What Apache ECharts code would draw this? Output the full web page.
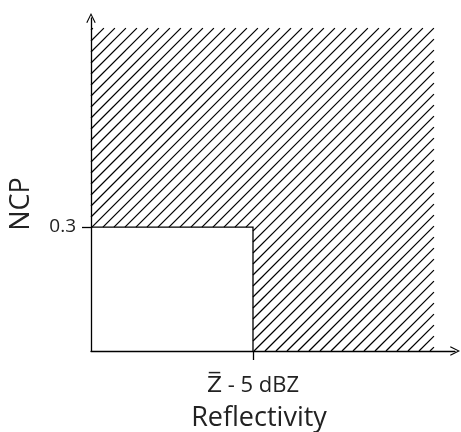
<!DOCTYPE html>
<html><head><meta charset="utf-8">
<script src="https://cdn.jsdelivr.net/npm/echarts@6/dist/echarts.min.js"></script>
<style>html,body{margin:0;padding:0;background:#fff}#c{width:461px;height:432px}</style>
</head><body><div id="c"></div>
<script>
// ---- data ----
const xAxisRange = [0, 2.247];          // reflectivity axis (schematic units)
const yAxisRange = [0, 0.806];          // NCP axis
const xTickValues = [1];
const xTickLabels = ['Z\u0305 - 5 dBZ'];
const yTickValues = [0.3];
const yTickLabels = ['0.3'];
const rejectExtent = [2.117, 0.7815];   // outer limit of hatched (rejected) region [x, y]
const acceptBox = [1, 0.3];             // clear region upper limits [x threshold, NCP threshold]
const axisNames = ['Reflectivity', 'NCP'];

const FONT = '"Open Sans", "DejaVu Sans", sans-serif';
const chart = echarts.init(document.getElementById('c'), null, {renderer: 'canvas'});

function renderItem(params, api) {
  const p0 = api.coord([0, 0]);
  const pT = api.coord([api.value(0), api.value(1)]);
  const pA = api.coord([api.value(2), api.value(3)]);
  const x0 = p0[0], y0 = p0[1], xR = pT[0], yT = pT[1], xa = pA[0], ya = pA[1];
  const rects = [[x0, xR, yT, ya], [xa, xR, ya, y0]];
  const children = [];
  const step = 11;
  const cMin = x0 + yT, cMax = xR + y0;
  for (let c = Math.floor(cMin / step) * step; c <= cMax + step; c += step) {
    for (const r of rects) {
      const lo = Math.max(r[0], c - r[3]);
      const hi = Math.min(r[1], c - r[2]);
      if (hi - lo > 0.3) {
        children.push({type: 'line', shape: {x1: lo, y1: c - lo, x2: hi, y2: c - hi},
          style: {stroke: '#000', lineWidth: 1.2}});
      }
    }
  }
  children.push({type: 'polyline', shape: {points: [[x0, ya], [xa, ya], [xa, y0]]},
    style: {stroke: '#000', lineWidth: 1.3, fill: null}});
  return {type: 'group', children};
}

const arrow = 'path://M5,0 L10,10 L8.9,10.6 L5,2.4 L1.1,10.6 L0,10 Z';

chart.setOption({
  animation: false,
  backgroundColor: '#fff',
  grid: {left: 91, right: 6, top: 18, bottom: 81, containLabel: false, outerBoundsMode: 'none'},
  xAxis: {
    type: 'value', min: xAxisRange[0], max: xAxisRange[1],
    axisLine: {show: true, symbol: ['none', arrow], symbolSize: [10, 10], lineStyle: {color: '#000', width: 1.3}},
    axisTick: {show: true, customValues: xTickValues, length: 9, lineStyle: {color: '#000', width: 1.3}},
    axisLabel: {show: true, customValues: xTickValues, margin: 24, color: '#222',
      fontFamily: FONT, fontSize: 22,
      formatter: v => xTickLabels[xTickValues.indexOf(v)] || ''},
    splitLine: {show: false}
  },
  yAxis: {
    type: 'value', min: yAxisRange[0], max: yAxisRange[1],
    axisLine: {show: true, symbol: ['none', arrow], symbolSize: [10, 10], lineStyle: {color: '#000', width: 1.3}},
    axisTick: {show: true, customValues: yTickValues, length: 9, lineStyle: {color: '#000', width: 1.3}},
    axisLabel: {show: true, customValues: yTickValues, margin: 15, color: '#222',
      fontFamily: FONT, fontSize: 19,
      formatter: v => yTickLabels[yTickValues.indexOf(v)] || ''},
    splitLine: {show: false}
  },
  graphic: [
    {type: 'text', x: 259, y: 418, style: {text: axisNames[0], fontFamily: FONT, fontSize: 27,
      fill: '#222', align: 'center', verticalAlign: 'middle'}},
    {type: 'text', x: 21, y: 204, rotation: Math.PI / 2, style: {text: axisNames[1], fontFamily: FONT, fontSize: 27,
      fill: '#222', align: 'center', verticalAlign: 'middle'}}
  ],
  series: [{
    type: 'custom',
    renderItem: renderItem,
    encode: {x: [0, 2], y: [1, 3]},
    data: [[rejectExtent[0], rejectExtent[1], acceptBox[0], acceptBox[1]]],
    silent: true
  }]
});
</script></body></html>
